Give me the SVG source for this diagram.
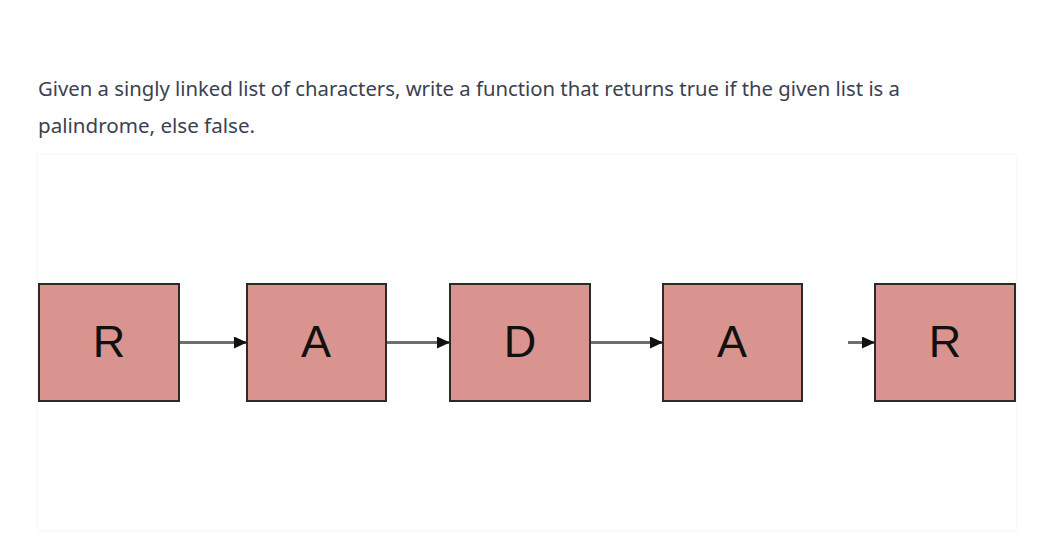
<svg xmlns="http://www.w3.org/2000/svg" width="1040" height="537" viewBox="0 0 1040 537">
<defs>
<style>
.intro{font-family:"Noto Sans","Liberation Sans",sans-serif;font-size:19px;fill:#3b4150}
.box{fill:#d99490;stroke:#2a2a2a;stroke-width:2}
.lbl{font-family:"Liberation Sans",Arial,sans-serif;font-size:45px;fill:#111;text-anchor:middle}
.link{stroke:#6e6e6e;stroke-width:3;fill:none}
</style>
<marker id="ah" markerWidth="14" markerHeight="12" refX="13" refY="6" orient="auto" markerUnits="userSpaceOnUse">
<path d="M0,0 L13,6 L0,12 Z" fill="#111"/>
</marker>
<filter id="sh" x="-5%" y="-5%" width="110%" height="110%">
<feDropShadow dx="0" dy="0" stdDeviation="1.5" flood-color="#000" flood-opacity="0.08"/>
</filter>
</defs>
<rect width="1040" height="537" fill="#fff"/>
<text class="intro" x="38" y="96" textLength="862" lengthAdjust="spacingAndGlyphs">Given a singly linked list of characters, write a function that returns true if the given list is a</text>
<text class="intro" x="38" y="133" textLength="217" lengthAdjust="spacingAndGlyphs">palindrome, else false.</text>
<rect x="38" y="155" width="978" height="375" fill="#fff" filter="url(#sh)"/>
<g id="connectors">
<line class="link" x1="180" y1="342.5" x2="247" y2="342.5" marker-end="url(#ah)"/>
<line class="link" x1="387" y1="342.5" x2="450" y2="342.5" marker-end="url(#ah)"/>
<line class="link" x1="590" y1="342.5" x2="663" y2="342.5" marker-end="url(#ah)"/>
<line class="link" x1="848" y1="342.5" x2="875" y2="342.5" marker-end="url(#ah)"/>
</g>
<g id="node-r1"><rect class="box" x="39" y="284" width="140" height="117"/><text class="lbl" x="109" y="357">R</text></g>
<g id="node-a1"><rect class="box" x="247" y="284" width="139" height="117"/><text class="lbl" x="316" y="357">A</text></g>
<g id="node-d"><rect class="box" x="450" y="284" width="140" height="117"/><text class="lbl" x="520" y="357">D</text></g>
<g id="node-a2"><rect class="box" x="663" y="284" width="139" height="117"/><text class="lbl" x="732" y="357">A</text></g>
<g id="node-r2"><rect class="box" x="875" y="284" width="140" height="117"/><text class="lbl" x="945" y="357">R</text></g>
</svg>
